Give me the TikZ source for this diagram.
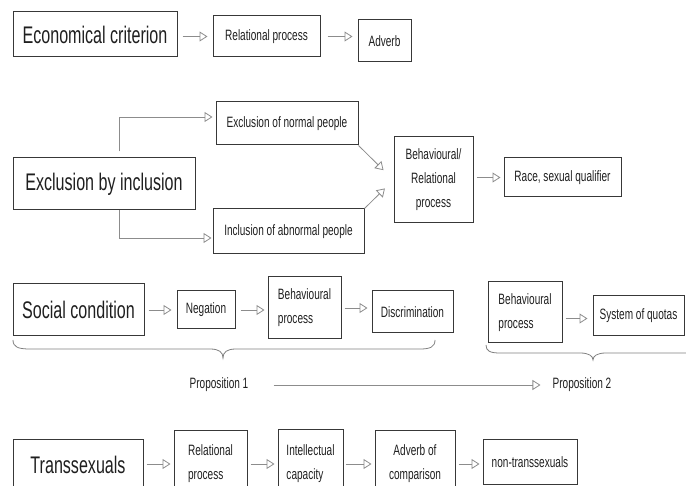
\documentclass[tikz,border=0pt]{standalone}
\usepackage{fontspec}
\setmainfont[FakeStretch=0.67]{Liberation Sans}
\usetikzlibrary{arrows.meta}
\begin{document}
\begin{tikzpicture}[x=1pt,y=-1pt,
  box/.style={draw=black!78, line width=1pt, inner sep=0pt, text=black!88},
  big/.style={font=\fontsize{24}{28}\selectfont},
  sm/.style={font=\fontsize{15}{24}\selectfont},
  arr/.style={draw=black!45, line width=0.8pt, -{Triangle[open, length=8pt, width=10pt]}},
  brace/.style={draw=black!50, line width=0.8pt}
]
\useasboundingbox (0,0) rectangle (686,486);
\clip (0,0) rectangle (686,486);

% Row 1
\node[box,big,minimum width=164pt,minimum height=45pt] (econ) at (95,34.5) {Economical criterion};
\node[box,sm,minimum width=107pt,minimum height=41pt] (rel1) at (266.5,36.5) {Relational process};
\node[box,sm,minimum width=53pt,minimum height=42pt] (adv) at (384.5,41) {Adverb};
\draw[arr, shorten <=5pt, shorten >=5pt] (econ.east |- rel1.west) -- (rel1.west);
\draw[arr, shorten <=7pt, shorten >=5pt] (rel1.east) -- (rel1.east -| adv.west);

% Row 2
\node[box,big,minimum width=182pt,minimum height=52pt] (exc) at (104,184) {Exclusion by inclusion};
\node[box,sm,minimum width=142pt,minimum height=43pt] (excn) at (287,123.5) {Exclusion of normal people};
\node[box,sm,minimum width=151pt,minimum height=45pt] (incl) at (288.5,231.5) {Inclusion of abnormal people};
\node[box,sm,minimum width=79pt,minimum height=86pt,align=center] (beh) at (433.5,180) {Behavioural/\\Relational\\process};
\node[box,sm,minimum width=117pt,minimum height=39pt] (race) at (562.5,177.5) {Race, sexual qualifier};
\draw[arr, shorten <=6pt, shorten >=3pt] ([xshift=107pt]exc.north west) |- ([yshift=6.5pt]excn.west);
\draw[arr, shorten >=1pt] ([xshift=107pt]exc.south west) |- ([yshift=-6.5pt]incl.west);
\draw[arr, shorten >=14pt] (excn.south east) -- (beh.west);
\draw[arr, shorten >=12pt] (incl.north east) -- (beh.west);
\draw[arr, shorten <=3pt, shorten >=3pt] (beh.east |- race.west) -- (race.west);

% Row 3
\node[box,big,minimum width=131pt,minimum height=52pt] (soc) at (78.5,310) {Social condition};
\node[box,sm,minimum width=58pt,minimum height=38pt] (neg) at (206,310) {Negation};
\node[box,sm,minimum width=73pt,minimum height=62pt,align=left] (bp) at (304.5,308) {Behavioural\\process};
\node[box,sm,minimum width=81pt,minimum height=42pt] (disc) at (412.5,312) {Discrimination};
\node[box,sm,minimum width=74pt,minimum height=61pt,align=left] (bp2) at (525,312.5) {Behavioural\\process};
\node[box,sm,minimum width=91pt,minimum height=40pt] (quota) at (638.5,316) {System of quotas};
\draw[arr, shorten <=4pt, shorten >=5pt] (soc.east |- neg.west) -- (neg.west);
\draw[arr, shorten <=5pt, shorten >=3pt] (neg.east) -- (neg.east -| bp.west);
\draw[arr, shorten <=3pt, shorten >=4pt] (bp.east) -- (bp.east -| disc.west);
\draw[arr, shorten <=3pt, shorten >=5pt] ([yshift=-6pt]bp2.east) -- ([yshift=-6pt]bp2.east -| quota.west);

% Braces
\draw[brace] (13,340) .. controls (13,347) and (18,349) .. (30,349) -- (210,349) .. controls (219,349) and (223,352) .. (223,358) .. controls (223,352) and (227,349) .. (236,349) -- (420,349) .. controls (430,349) and (435,347) .. (435,340);
\draw[brace] (486,345) .. controls (486,351) and (490,353) .. (500,353) -- (580,353) .. controls (589,353) and (593,356) .. (593,360) .. controls (593,356) and (597,353) .. (606,353) -- (700,353);

% Propositions
\node[sm,inner sep=0pt,text=black!88] (p1) at (219,385) {Proposition 1};
\node[sm,inner sep=0pt,text=black!88] (p2) at (582,385) {Proposition 2};
\draw[arr, shorten <=25pt, shorten >=12pt] (p1) -- (p2);

% Row 4
\node[box,big,minimum width=130pt,minimum height=50pt] (trans) at (78,465) {Transsexuals};
\node[box,sm,minimum width=73pt,minimum height=66pt,align=left] (rel2) at (210.5,464) {Relational\\process};
\node[box,sm,minimum width=65pt,minimum height=68pt,align=left] (intc) at (310.5,464) {Intellectual\\capacity};
\node[box,sm,minimum width=80pt,minimum height=66pt,align=center] (advc) at (415,464) {Adverb of\\comparison};
\node[box,sm,minimum width=94pt,minimum height=44pt] (nont) at (530,462) {non-transsexuals};
\draw[arr, shorten <=3pt, shorten >=3pt] (trans.east |- rel2.west) -- (rel2.west);
\draw[arr, shorten <=3pt, shorten >=3pt] (rel2.east) -- (rel2.east -| intc.west);
\draw[arr, shorten <=2pt, shorten >=3pt] (intc.east) -- (intc.east -| advc.west);
\draw[arr, shorten <=3pt, shorten >=3pt] (advc.east) -- (advc.east -| nont.west);
\end{tikzpicture}
\end{document}
